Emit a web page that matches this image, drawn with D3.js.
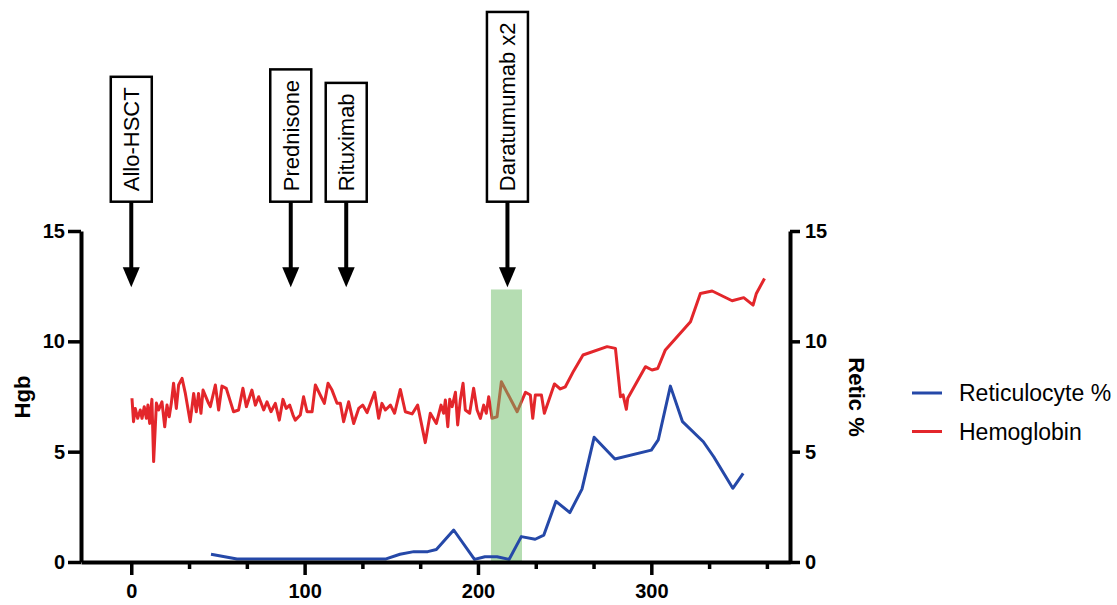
<!DOCTYPE html>
<html>
<head>
<meta charset="utf-8">
<script src="https://cdn.jsdelivr.net/npm/d3@7"></script>
<style>
  body { margin: 0; background: #fff; }
  text { font-family: "Liberation Sans", Arial, sans-serif; }
</style>
</head>
<body>
<div id="chart"></div>
<script>
// Hemoglobin (left axis), days since transplant
var hgbDays = [0.4, 1.3, 2.3, 3.7, 5.2, 6.2, 7.5, 8.7, 9.6, 10.6, 11.9, 12.9, 14.5, 15.8, 17.7, 19.3, 20.6, 21.9, 23.1, 24.4,
  26, 27.3, 29.3, 31.2, 34, 36, 37.5, 38.8, 40.2, 41.4, 44.6, 45.6, 48.5, 50.4, 52.3, 54.8, 59, 61.9, 64.4, 66.4,
  69.6, 71.6, 73.5, 76.4, 78.3, 80.6, 83.1, 85.4, 87.5, 89.4, 91.4, 93.3, 94.6, 97.5, 99.4, 101.4, 104.3, 106.2, 109.5, 111.4,
  113.5, 115.8, 118.7, 120.6, 122.5, 125.4, 128.3, 131.2, 133.5, 136, 140.4, 142.7, 144.6, 146.6, 149.5, 151.9, 155.2, 158.1, 162, 165.2,
  169.6, 172.5, 176, 178.7, 180.2, 181.2, 182.6, 183.7, 185.1, 187, 188.3, 189.8, 191.4, 192.7, 195.2, 197.5, 199.5, 201.4, 203.3, 204.8,
  206.2, 208.1, 211, 213.5, 222.6, 227.4, 230.2, 231.6, 233.1, 236.6, 238.3, 244.1, 247.5, 250.4, 255.2, 260.6, 274.5, 279.3, 282.2, 283.7,
  285.6, 286.4, 296.6, 300.4, 303.7, 308.1, 322.6, 328.3, 335.1, 346.6, 353.3, 358.7, 360.6, 365.3];
var hgbVals = [7.42, 6.36, 6.96, 6.51, 6.89, 6.51, 7.04, 6.51, 7.11, 6.28, 7.37, 4.55, 7.2, 6.89, 7.26, 6.13, 7.11, 6.58, 7.19, 8.10,
  6.96, 8.02, 8.32, 7.64, 6.36, 7.64, 6.81, 7.64, 6.74, 7.79, 7.19, 7.04, 8.02, 6.89, 7.97, 7.87, 6.81, 6.89, 7.87, 7.04,
  7.79, 7.11, 7.49, 6.89, 7.26, 6.81, 7.19, 6.43, 7.37, 6.96, 7.11, 6.66, 6.43, 6.66, 7.49, 6.81, 6.81, 8.02, 7.49, 7.19,
  8.10, 7.79, 7.19, 7.19, 6.36, 7.26, 6.28, 6.96, 7.11, 6.77, 7.69, 6.51, 7.19, 6.89, 7.11, 6.74, 7.82, 6.81, 6.71, 7.11,
  5.41, 6.74, 6.28, 7.11, 6.74, 7.34, 6.13, 7.37, 7.04, 7.69, 6.21, 7.34, 8.10, 6.89, 6.74, 7.87, 6.89, 6.51, 7.11, 6.74,
  7.49, 6.51, 6.58, 8.17, 6.81, 7.69, 7.57, 6.51, 7.57, 7.57, 6.74, 8.07, 7.84, 7.94, 8.66, 9.38, 9.76, 9.68, 7.49, 7.57,
  6.92, 7.42, 8.85, 8.70, 8.77, 9.61, 10.89, 12.17, 12.28, 11.84, 11.98, 11.64, 12.17, 12.85];

// Reticulocyte % (right axis)
var reticDays = [46, 61, 147, 155, 163, 171, 176, 186, 198, 204, 211, 218, 225, 233, 238, 245, 253, 260, 267, 279,
  300, 304, 311, 318, 330, 336, 347, 353];
var reticVals = [0.35, 0.14, 0.14, 0.35, 0.47, 0.47, 0.57, 1.45, 0.12, 0.24, 0.24, 0.12, 1.15, 1.03, 1.22, 2.75, 2.24, 3.3, 5.65, 4.67,
  5.07, 5.53, 7.97, 6.36, 5.45, 4.77, 3.34, 4.02];

// treatments
var annDays = [0, 92, 124, 217];
var annLabels = ["Allo-HSCT", "Prednisone", "Rituximab", "Daratumumab x2"];

// daratumumab window
var bandStart = 207.5, bandEnd = 225.4, bandTop = 12.35;

var xTicks = [0, 100, 200, 300];
var xMinor = [33.33, 66.67, 133.33, 166.67, 233.33, 266.67, 333.33, 366.67];
var yTicks = [0, 5, 10, 15];

var legendLabels = ["Reticulocyte %", "Hemoglobin"];

var svgWidth = 1117;
var svgHeight = 605;
var margin = { top: 231, right: 327, bottom: 43, left: 81 };
var width = svgWidth - margin.left - margin.right;
var height = svgHeight - margin.top - margin.bottom;

var red = "#e3262b", blue = "#2548a8";

var svg = d3.select("#chart")
  .append("svg")
  .attr("width", svgWidth)
  .attr("height", svgHeight);

var chartGroup = svg.append("g")
  .attr("transform", `translate(${margin.left}, ${margin.top})`);

var x = d3.scaleLinear().domain([-29, 380]).range([0, width]);
var yLeft = d3.scaleLinear().domain([0, 15]).range([height, 0]);
var yRight = d3.scaleLinear().domain([0, 15]).range([height, 0]);

var hgb = hgbDays.map((d, i) => ({ day: d, v: hgbVals[i] }));
var retic = reticDays.map((d, i) => ({ day: d, v: reticVals[i] }));

// hemoglobin line
chartGroup.append("path")
  .datum(hgb)
  .attr("fill", "none")
  .attr("stroke", red)
  .attr("stroke-width", 3)
  .attr("stroke-linejoin", "round")
  .attr("d", d3.line().x(d => x(d.day)).y(d => yLeft(d.v)));

// green band on top (semi transparent)
chartGroup.append("rect")
  .attr("x", x(bandStart))
  .attr("width", x(bandEnd) - x(bandStart))
  .attr("y", yLeft(bandTop))
  .attr("height", yLeft(0) - yLeft(bandTop))
  .attr("fill", "#6bbb65")
  .attr("opacity", 0.5);

// reticulocyte line
chartGroup.append("path")
  .datum(retic)
  .attr("fill", "none")
  .attr("stroke", blue)
  .attr("stroke-width", 3)
  .attr("stroke-linejoin", "round")
  .attr("d", d3.line().x(d => x(d.day)).y(d => yRight(d.v)));

// axes
function styleAxis(g) {
  g.select(".domain").attr("stroke-width", 4).attr("stroke", "#000");
  g.selectAll(".tick line").attr("stroke-width", 3.5).attr("stroke", "#000");
  g.selectAll(".tick text")
    .attr("font-size", "20px")
    .attr("font-weight", "bold")
    .attr("fill", "#000")
    .style("font-family", "'Liberation Sans', Arial, sans-serif");
}

chartGroup.append("g")
  .attr("transform", `translate(0, ${height})`)
  .call(d3.axisBottom(x).tickValues(xMinor).tickSize(7).tickFormat("").tickSizeOuter(0))
  .call(g => g.select(".domain").remove())
  .call(styleAxis);

chartGroup.append("g")
  .attr("transform", `translate(0, ${height})`)
  .call(d3.axisBottom(x).tickValues(xTicks).tickSize(13).tickPadding(9).tickSizeOuter(0))
  .call(styleAxis);

chartGroup.append("g")
  .call(d3.axisLeft(yLeft).tickValues(yTicks).tickSize(13).tickPadding(3).tickSizeOuter(0))
  .call(styleAxis);

chartGroup.append("g")
  .attr("transform", `translate(${width}, 0)`)
  .call(d3.axisRight(yRight).tickValues(yTicks).tickSize(10).tickPadding(5).tickSizeOuter(0))
  .call(styleAxis);

// axis titles
svg.append("text")
  .attr("transform", "translate(30, 397) rotate(-90)")
  .attr("text-anchor", "middle")
  .attr("font-size", "22px")
  .attr("font-weight", "bold")
  .text("Hgb");

svg.append("text")
  .attr("transform", "translate(849, 397) rotate(90)")
  .attr("text-anchor", "middle")
  .attr("font-size", "22px")
  .attr("font-weight", "bold")
  .text("Retic %");

// treatment annotations
var boxBottom = 201.7 - margin.top;
var arrowTip = yLeft(12.45);
var annGroup = chartGroup.selectAll(".ann")
  .data(annDays)
  .enter()
  .append("g")
  .attr("class", "ann")
  .attr("transform", d => `translate(${x(d)}, 0)`);

annGroup.append("line")
  .attr("x1", 0).attr("x2", 0)
  .attr("y1", boxBottom)
  .attr("y2", arrowTip - 18)
  .attr("stroke", "#000")
  .attr("stroke-width", 4);

annGroup.append("path")
  .attr("d", `M-8.5,${arrowTip - 20} L8.5,${arrowTip - 20} L0,${arrowTip} Z`)
  .attr("fill", "#000");

annGroup.each(function(d, i) {
  var g = d3.select(this);
  var rect = g.append("rect")
    .attr("fill", "#fff")
    .attr("stroke", "#000")
    .attr("stroke-width", 2.5);
  var t = g.append("text")
    .attr("font-size", "22px")
    .attr("text-anchor", "middle")
    .attr("fill", "#000")
    .text(annLabels[i]);
  var len = t.node().getComputedTextLength();
  var h = len + 21;
  rect.attr("x", -20.5).attr("width", 41)
    .attr("y", boxBottom - h).attr("height", h);
  t.attr("transform", `translate(8, ${boxBottom - h / 2}) rotate(-90)`);
});

// legend
var legend = svg.append("g").attr("transform", "translate(912, 393)");
legend.selectAll("line")
  .data(legendLabels)
  .enter()
  .append("line")
  .attr("x1", 0).attr("x2", 30)
  .attr("y1", (d, i) => i * 38.5)
  .attr("y2", (d, i) => i * 38.5)
  .attr("stroke", (d, i) => i === 0 ? blue : red)
  .attr("stroke-width", 3);

legend.selectAll("text")
  .data(legendLabels)
  .enter()
  .append("text")
  .attr("x", 47)
  .attr("y", (d, i) => i * 38.5 + 8)
  .attr("font-size", "23px")
  .attr("fill", "#000")
  .text(d => d);
</script>
</body>
</html>
